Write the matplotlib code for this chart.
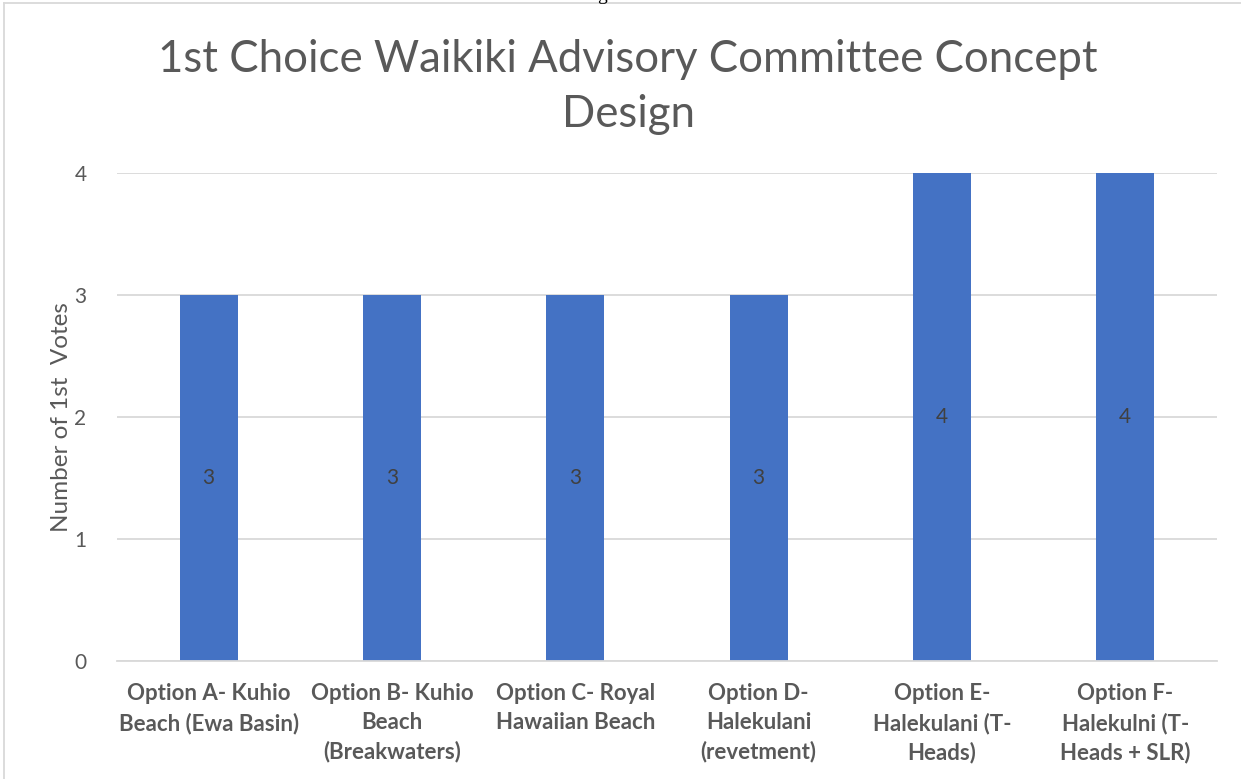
import matplotlib
matplotlib.use("Agg")
import matplotlib.pyplot as plt
from matplotlib.lines import Line2D

categories = [
    "Option A- Kuhio\nBeach (Ewa Basin)",
    "Option B- Kuhio\nBeach\n(Breakwaters)",
    "Option C- Royal\nHawaiian Beach",
    "Option D-\nHalekulani\n(revetment)",
    "Option E-\nHalekulani (T-\nHeads)",
    "Option F-\nHalekulni (T-\nHeads + SLR)",
]
votes = [3, 3, 3, 3, 4, 4]
y_ticks = [0, 1, 2, 3, 4]

title = "1st Choice Waikiki Advisory Committee Concept\nDesign"
y_label = "Number of 1st  Votes"

FONT = ["Lato", "DejaVu Sans"]
TEXT = "#595959"
BAR = "#4472C4"
GRID = "#D9D9D9"

W, H = 1241, 779
fig = plt.figure(figsize=(W / 100, H / 100), dpi=100)
fig.patch.set_facecolor("white")

# plot area in pixels: x 117..1217, y 173 (value 4) .. 661 (value 0)
left, right, top, bottom = 117, 1217, 173, 661
ax = fig.add_axes([left / W, 1 - bottom / H, (right - left) / W, (bottom - top) / H])
ax.set_xlim(-0.5, len(categories) - 0.5)
ax.set_ylim(0, 4)

x = list(range(len(categories)))
bars = ax.bar(x, votes, width=0.315, color=BAR, zorder=3)
for rect, v in zip(bars, votes):
    ax.text(rect.get_x() + rect.get_width() / 2, v / 2, f"{v}",
            ha="center", va="center", fontsize=15, color="#404040",
            family=FONT, zorder=4)

ax.set_yticks(y_ticks)
ax.set_yticklabels([str(t) for t in y_ticks], family=FONT, fontsize=15, color=TEXT)
ax.set_xticks(x)
ax.set_xticklabels(categories, family=FONT, fontsize=16, color=TEXT,
                   fontweight="bold", linespacing=1.45, va="top")
ax.tick_params(axis="y", length=0, pad=22)
ax.tick_params(axis="x", length=0, pad=16)

ax.grid(axis="y", color=GRID, linewidth=1.3, zorder=0)
ax.set_axisbelow(True)
for s in ["top", "right", "left"]:
    ax.spines[s].set_visible(False)
ax.spines["bottom"].set_color(GRID)
ax.spines["bottom"].set_linewidth(1.3)
ax.spines["bottom"].set_zorder(5)

ax.set_ylabel(y_label, family=FONT, fontsize=17.5, color=TEXT)
ax.yaxis.set_label_coords((72 - left) / (right - left), 0.5)

fig.text(628 / W, 1 - 87 / H, title, ha="center", va="center",
         family=FONT, fontsize=31.5, color=TEXT, linespacing=1.45)

# chart-area frame (top and left edges)
fig.add_artist(Line2D([4 / W, 1], [1 - 3 / H, 1 - 3 / H], color="#D9D9D9", linewidth=1.3))
fig.add_artist(Line2D([4 / W, 4 / W], [0, 1 - 3 / H], color="#D9D9D9", linewidth=1.3))

# descender of the caption line just above the chart
fig.text(602 / W, 1 + 4 / H, "g", ha="center", va="center", fontsize=14,
         family=["Liberation Serif"], color="black")

fig.savefig("out.png", dpi=100, facecolor="white")
